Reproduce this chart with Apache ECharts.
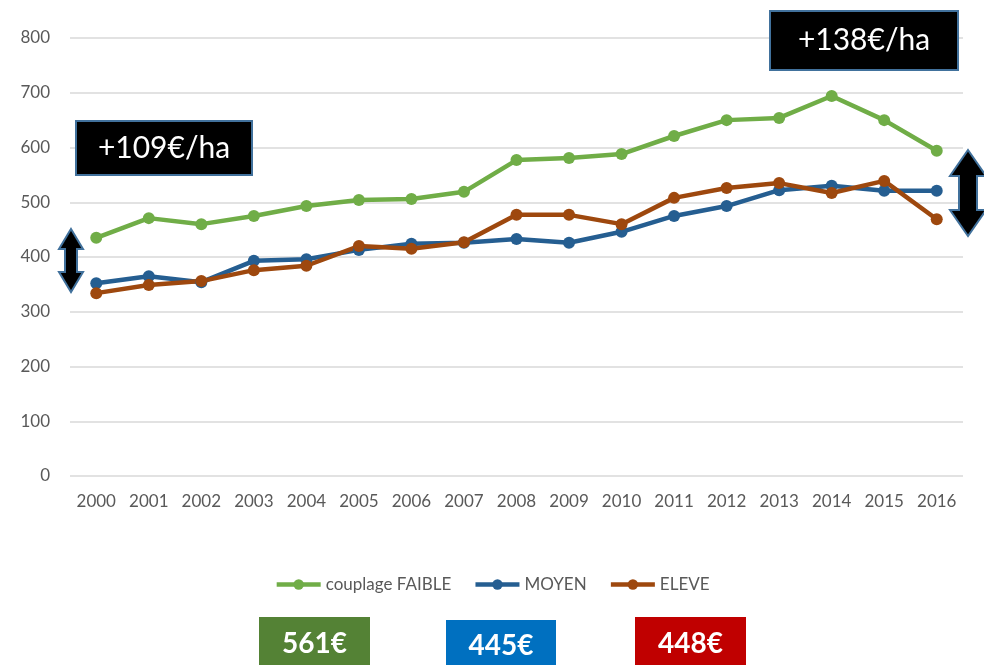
<!DOCTYPE html>
<html>
<head>
<meta charset="utf-8">
<style>
  html, body { margin: 0; padding: 0; background: #fff; }
  #chart { width: 984px; height: 665px; }
</style>
<script src="https://cdn.jsdelivr.net/npm/echarts@6/dist/echarts.min.js"></script>
</head>
<body>
<div id="chart"></div>
<script>
var years = ['2000', '2001', '2002', '2003', '2004', '2005', '2006', '2007', '2008',
  '2009', '2010', '2011', '2012', '2013', '2014', '2015', '2016'];
var faible = [435, 471, 460, 475, 493, 504, 506, 519, 577, 581, 588, 621, 650, 654, 694, 650, 594];
var moyen = [352, 365, 354, 393, 396, 413, 424, 426, 433, 426, 446, 475, 493, 522, 530, 521, 521];
var eleve = [334, 349, 356, 376, 384, 420, 415, 427, 477, 477, 460, 508, 526, 535, 517, 539, 469];
var gapLabels = ['+109€/ha', '+138€/ha'];
var avgLabels = ['561€', '445€', '448€'];

var FONT = 'Lato, "Open Sans", sans-serif';

// double headed vertical arrow, as a polygon
function arrow(cx, top, bottom, headW, shaftW, headH) {
  var hw = headW / 2, sw = shaftW / 2;
  return {
    type: 'polygon',
    shape: {
      points: [
        [cx, top], [cx + hw, top + headH], [cx + sw, top + headH],
        [cx + sw, bottom - headH], [cx + hw, bottom - headH], [cx, bottom],
        [cx - hw, bottom - headH], [cx - sw, bottom - headH],
        [cx - sw, top + headH], [cx - hw, top + headH]
      ]
    },
    style: { fill: '#000', stroke: '#41719C', lineWidth: 2 },
    z: 100
  };
}

function blackBox(x, y, w, h, text) {
  return {
    type: 'group',
    left: x, top: y,
    z: 100,
    children: [
      { type: 'rect', z: 100, shape: { x: 0, y: 0, width: w, height: h },
        style: { fill: '#000', stroke: '#41719C', lineWidth: 2 } },
      { type: 'text', z: 101, x: w / 2, y: h / 2,
        style: { text: text, fill: '#fff', font: '30px ' + FONT, align: 'center', verticalAlign: 'middle' } }
    ]
  };
}

function avgBox(x, y, w, h, color, text) {
  return {
    type: 'group',
    left: x, top: y,
    z: 100,
    children: [
      { type: 'rect', z: 100, shape: { x: 0, y: 0, width: w, height: h }, style: { fill: color } },
      { type: 'text', z: 101, x: w / 2, y: h / 2 + 2,
        style: { text: text, fill: '#fff', font: 'bold 28px ' + FONT, align: 'center', verticalAlign: 'middle' } }
    ]
  };
}

function lineSeries(name, data, color) {
  return {
    name: name,
    type: 'line',
    data: data,
    symbol: 'circle',
    symbolSize: 12,
    lineStyle: { width: 4.5, color: color },
    itemStyle: { color: color },
    emphasis: { disabled: true }
  };
}

var chart = echarts.init(document.getElementById('chart'));
chart.setOption({
  animation: false,
  textStyle: { fontFamily: FONT },
  grid: { left: 70, right: 21, top: 38, bottom: 189 },
  legend: {
    top: 571,
    left: 'center',
    itemWidth: 44,
    itemHeight: 13,
    itemGap: 22,
    lineStyle: { width: 4.5 },
    textStyle: { color: '#595959', fontSize: 17, fontFamily: FONT },
    data: ['couplage FAIBLE', 'MOYEN', 'ELEVE']
  },
  xAxis: {
    type: 'category',
    data: years,
    axisLine: { show: false },
    axisTick: { show: false },
    axisLabel: { color: '#595959', fontSize: 17, margin: 17 }
  },
  yAxis: {
    type: 'value',
    min: 0, max: 800, interval: 100,
    axisLabel: { color: '#595959', fontSize: 17, margin: 20 },
    splitLine: { lineStyle: { color: '#D9D9D9', width: 1.5 } }
  },
  series: [
    lineSeries('couplage FAIBLE', faible, '#70AD47'),
    lineSeries('MOYEN', moyen, '#255E91'),
    lineSeries('ELEVE', eleve, '#9E480E')
  ],
  graphic: [
    blackBox(75, 120, 176, 54, gapLabels[0]),
    blackBox(769, 10, 188, 59, gapLabels[1]),
    arrow(71, 229, 292, 24, 12, 20),
    arrow(968, 150, 236, 36, 18, 26),
    avgBox(259, 617, 111, 50, '#548235', avgLabels[0]),
    avgBox(446, 620, 110, 47, '#0070C0', avgLabels[1]),
    avgBox(635, 617, 111, 50, '#C00000', avgLabels[2])
  ]
});
</script>
</body>
</html>
